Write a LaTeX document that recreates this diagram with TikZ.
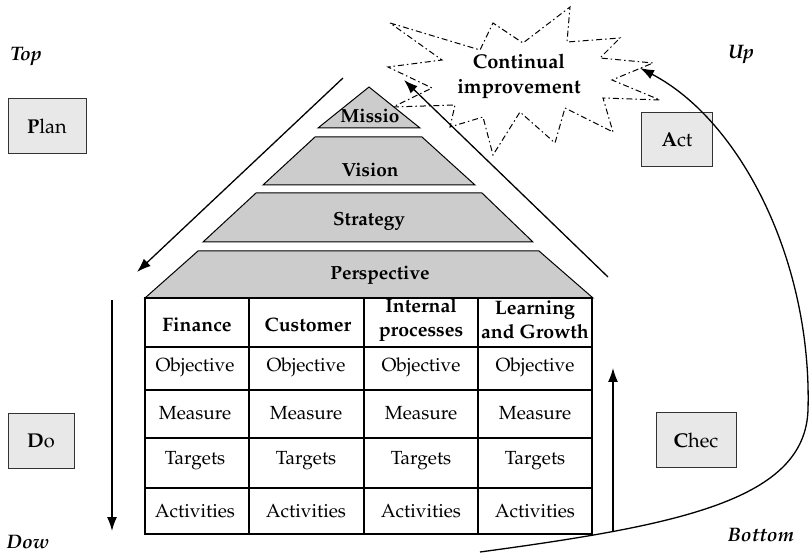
\documentclass[tikz,border=0pt]{standalone}
\usepackage[T1]{fontenc}
\usepackage{mathpazo}
\usetikzlibrary{arrows.meta}
\begin{document}
\begin{tikzpicture}[x=1pt,y=-1pt,
  trap/.style={draw=black,fill=black!20,line width=1pt,line join=miter},
  tbl/.style={draw=black,line width=1.3pt},
  pdca/.style={draw=black!80,fill=black!9,line width=1pt,minimum width=78pt,minimum height=55pt,inner sep=0pt,font=\fontsize{20}{24}\selectfont},
  lbl/.style={font=\fontsize{19.5}{23}\selectfont\bfseries\itshape},
  cell/.style={font=\fontsize{19}{23}\selectfont,inner sep=0pt},
  head/.style={font=\fontsize{19.5}{24}\selectfont\bfseries,inner sep=0pt,align=center},
  pyr/.style={font=\fontsize{19}{22}\selectfont\bfseries,inner sep=0pt},
  arr/.style={line width=1.3pt,-{Latex[length=14pt,width=10pt]}},
  star/.style={draw=black,line width=1pt,dash pattern=on 6pt off 3pt on 1.5pt off 3pt}]
\useasboundingbox (0,0) rectangle (809,553);

% star
\draw[star] (390,23) -- (480,50) -- (493,23) -- (523,43) -- (570,7) -- (567,42) -- (620,38) -- (600,58) -- (653,63) -- (612,80) -- (660,100) -- (603,98) -- (613,132) -- (565,108) -- (555,143) -- (520,112) -- (493,155) -- (483,117) -- (450,127) -- (455,105) -- (393,107) -- (432,88) -- (388,67) -- (442,60) -- cycle;
\node[font=\fontsize{20}{25}\selectfont\bfseries,align=center] (ci) at (519,76) {Continual\\improvement};

% pyramid
\draw[trap] (318,128) -- (369,87) -- (420,128) -- cycle;
\draw[trap] (263,185) -- (315,137) -- (422,137) -- (475,185) -- cycle;
\draw[trap] (203,242) -- (256,193) -- (482,193) -- (533,242) -- cycle;
\draw[trap] (145,298) -- (198,251) -- (539,251) -- (593,298) -- cycle;
\node[pyr] (mis) at (370,116) {Missio};
\node[pyr] (vis) at (370,170) {Vision};
\node[pyr] (str) at (369,221) {Strategy};
\node[pyr] (per) at (380,275) {Perspective};

% table
\draw[tbl] (145,298) rectangle (592,534);
\foreach \x in {249,364,478} \draw[tbl] (\x,298) -- (\x,534);
\foreach \y in {347,390,438,488} \draw[tbl] (145,\y) -- (592,\y);

\node[head] (h1) at (197,325) {Finance};
\node[head] (h2) at (308,325) {Customer};
\node[head] (h3) at (421,320) {Internal\\processes};
\node[head] (h4) at (535,320) {Learning\\and Growth};

\foreach \c/\x in {1/195,2/306,3/421,4/535}{
  \node[cell] (o\c) at (\x,367) {Objective};
  \node[cell] (m\c) at (\x,413) {Measure};
  \node[cell] (t\c) at (\x,461) {Targets};
  \node[cell] (a\c) at (\x,511) {Activities};
}

% PDCA boxes
\node[pdca] (plan) at (47,126) {\textbf{P}lan};
\node[pdca,minimum width=71pt,minimum height=54pt] (act) at (677,140) {\textbf{A}ct};
\node[pdca,minimum width=66pt] (do) at (41,441) {\textbf{D}o};
\node[pdca,minimum width=80pt] (chec) at (696,440) {\textbf{C}hec};

\node[lbl] (top) at (26,57) {Top};
\node[lbl] (up) at (741,55) {Up};
\node[lbl] (dow) at (28,542) {Dow};
\node[lbl] (bot) at (761,535) {Bottom};

% arrows
\coordinate (l0) at (343,78);
\coordinate (l1) at (137,272);
\coordinate (r0) at (608,277);
\coordinate (r1) at (404,80);
\coordinate (d0) at (112,300);
\coordinate (d1) at (112,531);
\coordinate (u0) at (613,532);
\coordinate (u1) at (613,368);
\coordinate (c0) at (480,552);
\coordinate (cm) at (808,410);
\coordinate (c1) at (640,68);
\draw[arr] (l0) -- (l1);
\draw[arr] (r0) -- (r1);
\draw[arr] (d0) -- (d1);
\draw[arr] (u0) -- (u1);
\draw[line width=1.3pt] (c0) .. controls (680,525) and (805,500) .. (cm);
\draw[arr] (cm) .. controls (812,260) and (740,120) .. (c1);
\end{tikzpicture}
\end{document}
